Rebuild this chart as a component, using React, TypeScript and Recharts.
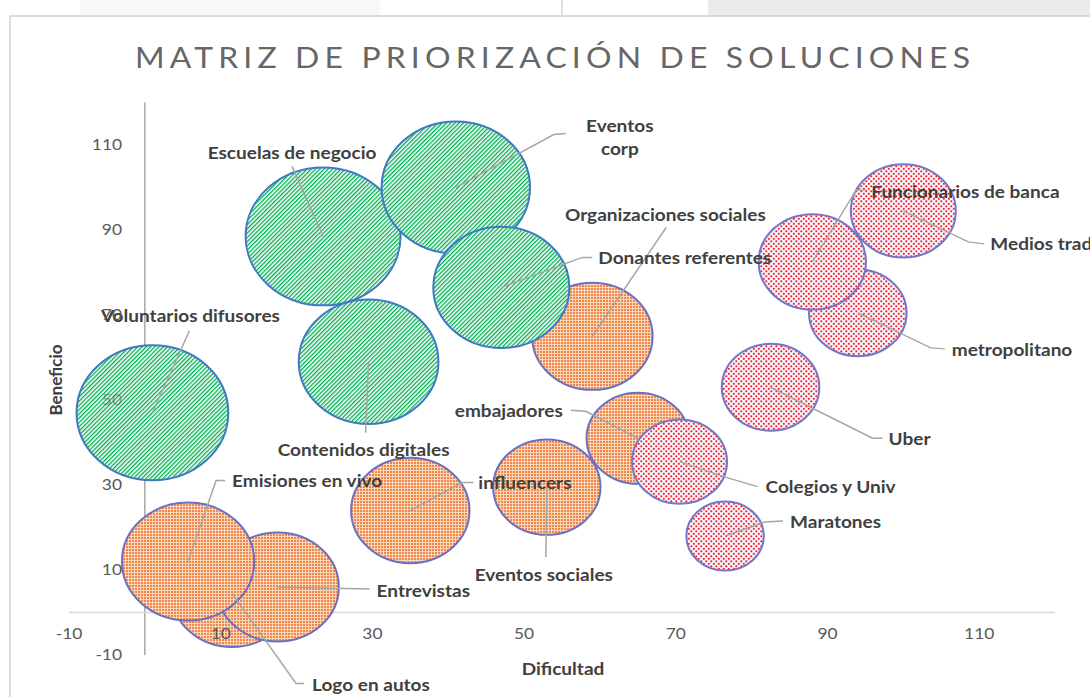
import React from "react";
import { ScatterChart, Scatter, XAxis, YAxis, ZAxis, ReferenceLine } from "recharts";

// ticks
const xTicks = [-10, 10, 30, 50, 70, 90, 110];
const yTicks = [-10, 10, 30, 50, 70, 90, 110];

// naranja (puntos)
const orangeNames = ["Logo en autos", "Entrevistas", "Emisiones en vivo", "influencers", "Eventos sociales", "embajadores", "Organizaciones sociales"];
const orangeX = [11.5, 17.5, 5.7, 35, 53, 65, 59];
const orangeY = [4.5, 6, 12, 24, 29.5, 41, 65];
const orangeZ = [14.5, 15, 17.5, 14, 11.5, 10.5, 14.5];

// verde (rayado)
const greenNames = ["Voluntarios difusores", "Escuelas de negocio", "Contenidos digitales", "Eventos corp", "Donantes referentes"];
const greenX = [1, 23.5, 29.5, 41, 47];
const greenY = [47, 88.5, 59, 100, 76.5];
const greenZ = [23, 24, 19.5, 22, 18.5];

// rojo (punteado)
const redNames = ["Maratones", "Colegios y Univ", "Uber", "metropolitano", "Medios tradicionales", "Funcionarios de banca"];
const redX = [76.5, 70.5, 82.5, 94, 100, 88];
const redY = [18, 35.5, 53, 70.5, 94.5, 82.5];
const redZ = [6, 9, 9.5, 9.5, 11, 11.5];

type Pt = { name: string; x: number; y: number; z: number };
const build = (n: string[], x: number[], y: number[], z: number[]): Pt[] =>
  n.map((name, i) => ({ name, x: x[i], y: y[i], z: z[i] }));

const orangeData = build(orangeNames, orangeX, orangeY, orangeZ);
const greenData = build(greenNames, greenX, greenY, greenZ);
const redData = build(redNames, redX, redY, redZ);
const allData = [...orangeData, ...greenData, ...redData];

// label placement relative to bubble centre (px)
type LabelPos = {
  dx: number;
  dy: number;
  anchor: "start" | "middle" | "end";
  leader: [number, number][];
  lines?: string[];
};
const labelPos: Record<string, LabelPos> = {
  "Voluntarios difusores": { dx: 38, dy: -97, anchor: "middle", leader: [[37, -82]] },
  "Escuelas de negocio": { dx: -31, dy: -84, anchor: "middle", leader: [[-31, -70]] },
  "Eventos corp": { dx: 164, dy: -62, anchor: "middle", leader: [[98, -53], [110, -54]], lines: ["Eventos", "corp"] },
  "Donantes referentes": { dx: 97, dy: -30, anchor: "start", leader: [[81, -30], [91, -30]] },
  "Contenidos digitales": { dx: -5, dy: 88, anchor: "middle", leader: [[-3, 71]] },
  "Organizaciones sociales": { dx: 73, dy: -122, anchor: "middle", leader: [[74, -109]] },
  embajadores: { dx: -75, dy: -28, anchor: "end", leader: [[-52, -27], [-67, -28]] },
  influencers: { dx: 68, dy: -28, anchor: "start", leader: [[52, -28], [63, -28]] },
  "Eventos sociales": { dx: -3, dy: 87, anchor: "middle", leader: [[-1, 70]] },
  "Emisiones en vivo": { dx: 44, dy: -81, anchor: "start", leader: [[28, -81], [37, -81]] },
  Entrevistas: { dx: 99, dy: 3, anchor: "start", leader: [[92, 2]] },
  "Logo en autos": { dx: 80, dy: 91, anchor: "start", leader: [[64, 90], [72, 90]] },
  "Colegios y Univ": { dx: 86, dy: 25, anchor: "start", leader: [[44, 15], [78, 25]] },
  Maratones: { dx: 65, dy: -15, anchor: "start", leader: [[40, -14], [58, -15]] },
  Uber: { dx: 118, dy: 51, anchor: "start", leader: [[102, 51], [112, 51]] },
  metropolitano: { dx: 94, dy: 37, anchor: "start", leader: [[73, 35], [87, 36]] },
  "Medios tradicionales": { dx: 87, dy: 33, anchor: "start", leader: [[65, 31], [81, 33]] },
  "Funcionarios de banca": { dx: 59, dy: -70, anchor: "start", leader: [[44, -72], [54, -72]] },
};

const FONT = "Lato, 'Open Sans', sans-serif";
const ASPECT = 1.06;
const STRETCH = 1.12; // the original picture is widened a little

function makeBubble(stroke: string) {
  return (p: any) => {
    const size = typeof p.size === "number" ? p.size : Math.PI * Math.pow((p.width || 0) / 2, 2);
    const r = Math.sqrt(Math.max(size, 0) / Math.PI);
    return (
      <ellipse
        cx={p.cx}
        cy={p.cy}
        rx={r * ASPECT}
        ry={r / ASPECT}
        fill={p.fill}
        stroke={stroke}
        strokeWidth={2}
      />
    );
  };
}

function WideText({ x, y, children, ...rest }: any) {
  return (
    <text transform={`translate(${x} ${y}) scale(${STRETCH} 1)`} fontFamily={FONT} {...rest}>
      {children}
    </text>
  );
}

function LabelMark(p: any) {
  const name = p.payload?.name;
  const pos = labelPos[name];
  if (!pos) return <g />;
  const pts = [[p.cx, p.cy], ...pos.leader.map(([a, b]) => [p.cx + a, p.cy + b])];
  const lines = pos.lines || [name];
  return (
    <g>
      <polyline
        points={pts.map((q) => q.join(",")).join(" ")}
        fill="none"
        stroke="#a6a6a6"
        strokeWidth={1.5}
      />
      {lines.map((t, i) => (
        <WideText
          key={t}
          x={p.cx + pos.dx}
          y={p.cy + pos.dy + i * 23}
          textAnchor={pos.anchor}
          dominantBaseline="central"
          fontWeight={700}
          fontSize={17}
          fill="#404040"
        >
          {t}
        </WideText>
      ))}
    </g>
  );
}

const XTick = (p: any) => (
  <WideText x={p.x} y={639} textAnchor="middle" fontSize={15.5} fill="#595959">
    {p.payload.value}
  </WideText>
);

const YTick = (p: any) => (
  <WideText x={122} y={p.y + 5} textAnchor="end" fontSize={15.5} fill="#595959" fillOpacity={p.payload.value === 50 ? 0.55 : 1}>
    {p.payload.value}
  </WideText>
);

export default function App() {
  return (
    <div style={{ position: "absolute", left: 0, top: 0, width: 1090, height: 697, background: "#fff" }}>
      <ScatterChart width={1090} height={697} margin={{ top: 102.5, right: 35, bottom: 41, left: 68 }}>
        <defs>
          <pattern id="hatchGreen" width="3" height="3" patternUnits="userSpaceOnUse" patternTransform="rotate(-45)">
            <rect width="3" height="3" fill="#ffffff" />
            <rect width="3" height="1.35" fill="#00b050" />
          </pattern>
          <pattern id="dotOrange" width="3" height="3" patternUnits="userSpaceOnUse">
            <rect width="3" height="3" fill="#fbd6b8" />
            <rect width="2" height="2" fill="#f0864a" />
          </pattern>
          <pattern id="dotRed" width="5" height="5" patternUnits="userSpaceOnUse">
            <rect width="5" height="5" fill="#f1f5fc" />
            <rect x="0.4" y="0.4" width="1.8" height="1.8" fill="#ff1424" />
            <rect x="2.9" y="2.9" width="1.8" height="1.8" fill="#ff1424" />
          </pattern>
        </defs>

        {/* marco y franja superior */}
        <rect x={708} y={0} width={382} height={16} fill="#ebebeb" />
        <rect x={80} y={0} width={300} height={16} fill="#f8f8f8" />
        <line x1={562} y1={0} x2={562} y2={16} stroke="#e0e0e0" strokeWidth={2} />
        <rect x={10} y={16} width={1100} height={700} fill="none" stroke="#d0d0d0" strokeWidth={1.5} />

        <WideText x={555} y={68} textAnchor="middle" fontSize={28.5} letterSpacing={4.6} fill="#666666">
          MATRIZ DE PRIORIZACIÓN DE SOLUCIONES
        </WideText>

        <XAxis
          type="number"
          dataKey="x"
          domain={[-10, 120]}
          ticks={xTicks}
          height={1}
          axisLine={false}
          tickLine={false}
          tick={XTick}
        />
        <YAxis
          type="number"
          dataKey="y"
          domain={[-10, 120]}
          ticks={yTicks}
          width={1}
          axisLine={false}
          tickLine={false}
          tick={YTick}
        />
        <ZAxis type="number" dataKey="z" domain={[0, 24]} range={[0, 16790]} />

        <ReferenceLine x={0} stroke="#a6a6a6" strokeWidth={1.5} />
        <ReferenceLine y={0} stroke="#d9d9d9" strokeWidth={1.5} />

        <Scatter name="naranja" data={orangeData} fill="url(#dotOrange)" shape={makeBubble("#6a6fc2")} isAnimationActive={false} />
        <Scatter name="verde" data={greenData} fill="url(#hatchGreen)" shape={makeBubble("#3f78c4")} isAnimationActive={false} />
        <Scatter name="rojo" data={redData} fill="url(#dotRed)" shape={makeBubble("#7476c6")} isAnimationActive={false} />
        <Scatter name="etiquetas" data={allData} fill="none" shape={LabelMark} isAnimationActive={false} />

        <text x={55} y={380} transform="rotate(-90 55 380)" textAnchor="middle" dominantBaseline="central" fontFamily={FONT} fontWeight={700} fontSize={17} fill="#404040">
          Beneficio
        </text>
        <WideText x={563} y={668} textAnchor="middle" dominantBaseline="central" fontWeight={700} fontSize={17} fill="#404040">
          Dificultad
        </WideText>
      </ScatterChart>
    </div>
  );
}
